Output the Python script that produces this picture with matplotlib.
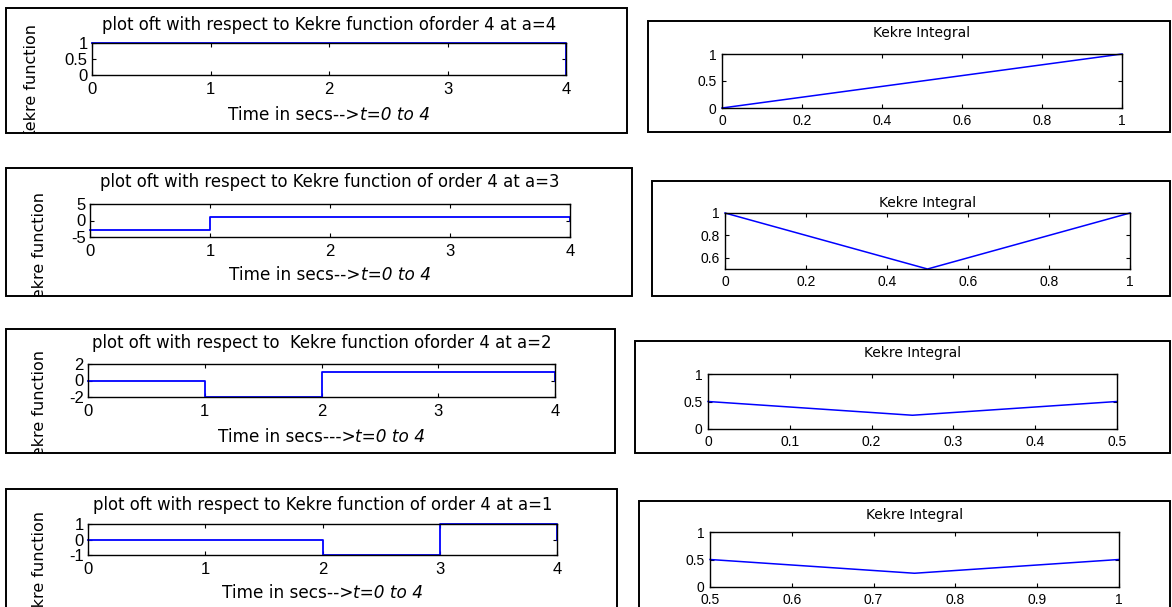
import matplotlib
matplotlib.use('Agg')
import matplotlib.pyplot as plt
from matplotlib.patches import Rectangle
from matplotlib.transforms import Bbox, TransformedBbox

W, H = 1172, 607

# Kekre function of order 4, one row per value of a (values on t = 0..4)
t_edges = [0, 1, 2, 3, 4]
kekre_a4 = [1, 1, 1, 1, 0]
kekre_a3 = [-3, 1, 1, 1, 0]
kekre_a2 = [0, -2, 1, 1, 0]
kekre_a1 = [0, 0, -1, 1, 0]

# Kekre integral curves
int1_x = [0, 1]
int1_y = [0, 1]
int2_x = [0, 0.5, 1]
int2_y = [1, 0.5, 1]
int3_x = [0, 0.25, 0.5]
int3_y = [0.5, 0.25, 0.5]
int4_x = [0.5, 0.75, 1]
int4_y = [0.5, 0.25, 0.5]

left_titles = ['plot oft with respect to Kekre function oforder 4 at a=4',
               'plot oft with respect to Kekre function of order 4 at a=3',
               'plot oft with respect to  Kekre function oforder 4 at a=2',
               'plot oft with respect to Kekre function of order 4 at a=1']
left_xlabels = ['Time in secs-->', 'Time in secs-->',
                'Time in secs--->', 'Time in secs-->']
left_ylim = [(0, 1), (-5, 5), (-2, 2), (-1, 1)]
left_yticks = [[0, 0.5, 1], [-5, 0, 5], [-2, 0, 2], [-1, 0, 1]]

right_title = 'Kekre Integral'
right_xlim = [(0, 1), (0, 1), (0, 0.5), (0.5, 1)]
right_xticks = [[0, 0.2, 0.4, 0.6, 0.8, 1],
                [0, 0.2, 0.4, 0.6, 0.8, 1],
                [0, 0.1, 0.2, 0.3, 0.4, 0.5],
                [0.5, 0.6, 0.7, 0.8, 0.9, 1]]
right_ylim = [(0, 1), (0.5, 1), (0, 1), (0, 1)]
right_yticks = [[0, 0.5, 1], [0.6, 0.8, 1], [0, 0.5, 1], [0, 0.5, 1]]

# layout in pixels (x0, y0, x1, y1), y from top
left_box = [(6, 8, 627, 133), (6, 168, 632, 296), (6, 329, 615, 453), (6, 489, 617, 650)]
left_ax = [(92, 43, 566, 75), (90, 204, 570, 237), (88, 364, 555, 397), (88, 524, 557, 555)]
right_box = [(648, 21, 1170, 132), (652, 181, 1170, 296), (635, 341, 1170, 453), (639, 501, 1170, 650)]
right_ax = [(722, 54, 1122, 108), (725, 213, 1130, 269), (708, 374, 1117, 429), (710, 532, 1119, 587)]
left_title_y = [25, 182, 343, 505]
left_xlabel_y = [115, 275, 437, 593]
left_ylabel = [(32, 24), (40, 192), (40, 350), (40, 511)]
right_title_y = [33, 203, 353, 515]

plt.rcParams['font.family'] = ['Liberation Sans', 'DejaVu Sans']
LABEL_FONT = 'DejaVu Sans'

fig = plt.figure(figsize=(W / 100, H / 100), dpi=100)


def fx(x):
  return x / W


def fy(y):
  return 1 - y / H


def add_box(b):
  x0, y0, x1, y1 = b
  rect = Rectangle((fx(x0), fy(y1)), fx(x1 - x0), (y1 - y0) / H,
                   transform=fig.transFigure, fill=False,
                   edgecolor='black', linewidth=1.4)
  fig.add_artist(rect)


def add_axes(b, size):
  x0, y0, x1, y1 = b
  ax = fig.add_axes([fx(x0), fy(y1), fx(x1 - x0), (y1 - y0) / H])
  ax.tick_params(direction='in', top=True, right=True, length=2.6,
                 width=0.8, labelsize=size, colors='black')
  for s in ax.spines.values():
    s.set_linewidth(1.0)
  return ax


def fmt(v):
  return '%g' % v


renderer = fig.canvas.get_renderer()

left_data = [kekre_a4, kekre_a3, kekre_a2, kekre_a1]
for i in range(4):
  add_box(left_box[i])
  ax = add_axes(left_ax[i], 12)
  ax.plot(t_edges, left_data[i], color='#0000ff', linewidth=1.3,
          drawstyle='steps-post', clip_on=False)
  ax.set_xlim(0, 4)
  ax.set_ylim(*left_ylim[i])
  ax.set_xticks(t_edges, [fmt(v) for v in t_edges])
  ax.set_yticks(left_yticks[i], [fmt(v) for v in left_yticks[i]])
  ax.tick_params(axis='x', pad=5)
  ax.tick_params(axis='y', pad=3)
  cx = (left_ax[i][0] + left_ax[i][2]) / 2

  fig.text(fx(cx), fy(left_title_y[i]), left_titles[i], size=11.9,
           family=LABEL_FONT, ha='center', va='center')

  # x label: plain part + italic part, centred together
  t1 = fig.text(0, fy(left_xlabel_y[i]), left_xlabels[i], size=12.2,
                family=LABEL_FONT, ha='left', va='center')
  t2 = fig.text(0, fy(left_xlabel_y[i]), 't=0 to 4', size=12.2,
                family=LABEL_FONT, style='italic', ha='left', va='center')
  w1 = t1.get_window_extent(renderer).width
  w2 = t2.get_window_extent(renderer).width
  x0 = cx - (w1 + w2) / 2
  t1.set_x(fx(x0))
  t2.set_x(fx(x0 + w1))

  # y label, clipped by the surrounding box
  lx, ly = left_ylabel[i]
  bx0, by0, bx1, by1 = left_box[i]
  yl = fig.text(fx(lx), fy(ly), 'Kekre function', size=11.5, rotation=90,
                family=LABEL_FONT, ha='center', va='top', clip_on=True)
  yl.set_clip_box(TransformedBbox(
      Bbox.from_extents(fx(bx0), fy(by1), fx(bx1), fy(by0)), fig.transFigure))

right_data = [(int1_x, int1_y), (int2_x, int2_y),
              (int3_x, int3_y), (int4_x, int4_y)]
for i in range(4):
  add_box(right_box[i])
  ax = add_axes(right_ax[i], 10)
  xs, ys = right_data[i]
  ax.plot(xs, ys, color='#0000ff', linewidth=1.1, clip_on=False)
  ax.set_xlim(*right_xlim[i])
  ax.set_ylim(*right_ylim[i])
  ax.set_xticks(right_xticks[i], [fmt(v) for v in right_xticks[i]])
  ax.set_yticks(right_yticks[i], [fmt(v) for v in right_yticks[i]])
  ax.tick_params(axis='x', pad=4)
  ax.tick_params(axis='y', pad=4)
  cx = (right_ax[i][0] + right_ax[i][2]) / 2
  fig.text(fx(cx), fy(right_title_y[i]), right_title, size=10,
           family=LABEL_FONT, ha='center', va='center')

fig.savefig('out.png', dpi=100)
